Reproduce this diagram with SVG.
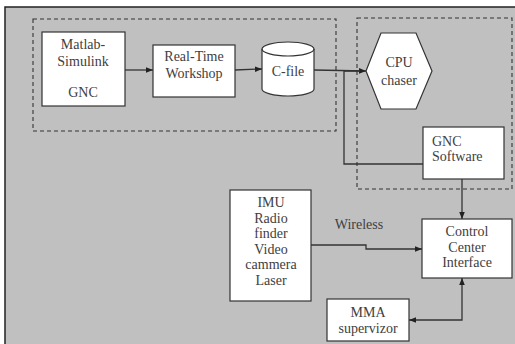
<svg xmlns="http://www.w3.org/2000/svg" width="515" height="344" viewBox="0 0 515 344">
<defs>
<marker id="ah" viewBox="0 0 10 10" refX="10" refY="5" markerWidth="7" markerHeight="7" markerUnits="userSpaceOnUse" orient="auto-start-reverse">
<path d="M0,1 L10,5 L0,9 z" fill="#222"/>
</marker>
<style>
.box{fill:#fff;stroke:#333;stroke-width:1.2}
.dash{fill:none;stroke:#333;stroke-width:1.1;stroke-dasharray:4,3}
text{font-family:'Liberation Serif','Times New Roman',Times,serif;font-size:14px;fill:#404040;text-anchor:middle}
.tl{text-anchor:start}
.c{fill:none;stroke:#333;stroke-width:1.3}
</style>
</defs>
<rect x="5" y="7" width="520" height="350" fill="#c0c0c0" stroke="#222" stroke-width="1.5"/>
<rect class="dash" x="33" y="19" width="303" height="112"/>
<rect class="dash" x="357" y="18" width="155" height="171"/>
<g id="connectors">
<line class="c" x1="125" y1="70" x2="153" y2="70" marker-end="url(#ah)"/>
<line class="c" x1="235" y1="70" x2="262" y2="69" marker-end="url(#ah)"/>
<line class="c" x1="314" y1="70" x2="366" y2="71" marker-end="url(#ah)"/>
<polyline class="c" points="423,164 344,164 344,71 360,71"/>
<line class="c" x1="462" y1="179" x2="462" y2="219" marker-end="url(#ah)"/>
<polyline class="c" points="311,245 366,245 366,249 422,249" marker-end="url(#ah)"/>
<polyline class="c" points="462,278 462,320 409,320" marker-start="url(#ah)" marker-end="url(#ah)"/>
</g>
<g id="matlab">
<rect class="box" x="42" y="32" width="83" height="74"/>
<text x="83" y="49">Matlab-</text>
<text x="83" y="66">Simulink</text>
<text x="83" y="97">GNC</text>
</g>
<g id="rtw">
<rect class="box" x="153" y="45" width="82" height="52"/>
<text x="194" y="61">Real-Time</text>
<text x="194" y="78">Workshop</text>
</g>
<g id="cfile">
<path class="box" d="M262,49 L262,89 A26,7 0 0 0 314,89 L314,49 A26,7 0 0 0 262,49 Z"/>
<path d="M262,49 A26,7 0 0 0 314,49" fill="none" stroke="#333" stroke-width="1.2"/>
<text x="288" y="76">C-file</text>
</g>
<g id="cpu">
<polygon class="box" points="366,71 381,33 416,33 432,71 416,109 381,109"/>
<text x="399" y="67">CPU</text>
<text x="399" y="85">chaser</text>
</g>
<g id="gnc">
<rect class="box" x="423" y="127" width="81" height="52"/>
<text class="tl" x="432" y="146">GNC</text>
<text class="tl" x="432" y="161">Software</text>
</g>
<g id="imu">
<rect class="box" x="230" y="190" width="81" height="111"/>
<text x="271" y="207">IMU</text>
<text x="271" y="223">Radio</text>
<text x="271" y="238">finder</text>
<text x="271" y="254">Video</text>
<text x="271" y="269">cammera</text>
<text x="271" y="285">Laser</text>
</g>
<text x="359" y="229">Wireless</text>
<g id="cci">
<rect class="box" x="422" y="219" width="90" height="59"/>
<text x="467" y="236">Control</text>
<text x="467" y="252">Center</text>
<text x="467" y="267">Interface</text>
</g>
<g id="mma">
<rect class="box" x="327" y="299" width="82" height="42"/>
<text x="368" y="317">MMA</text>
<text x="368" y="333">supervizor</text>
</g>
</svg>
